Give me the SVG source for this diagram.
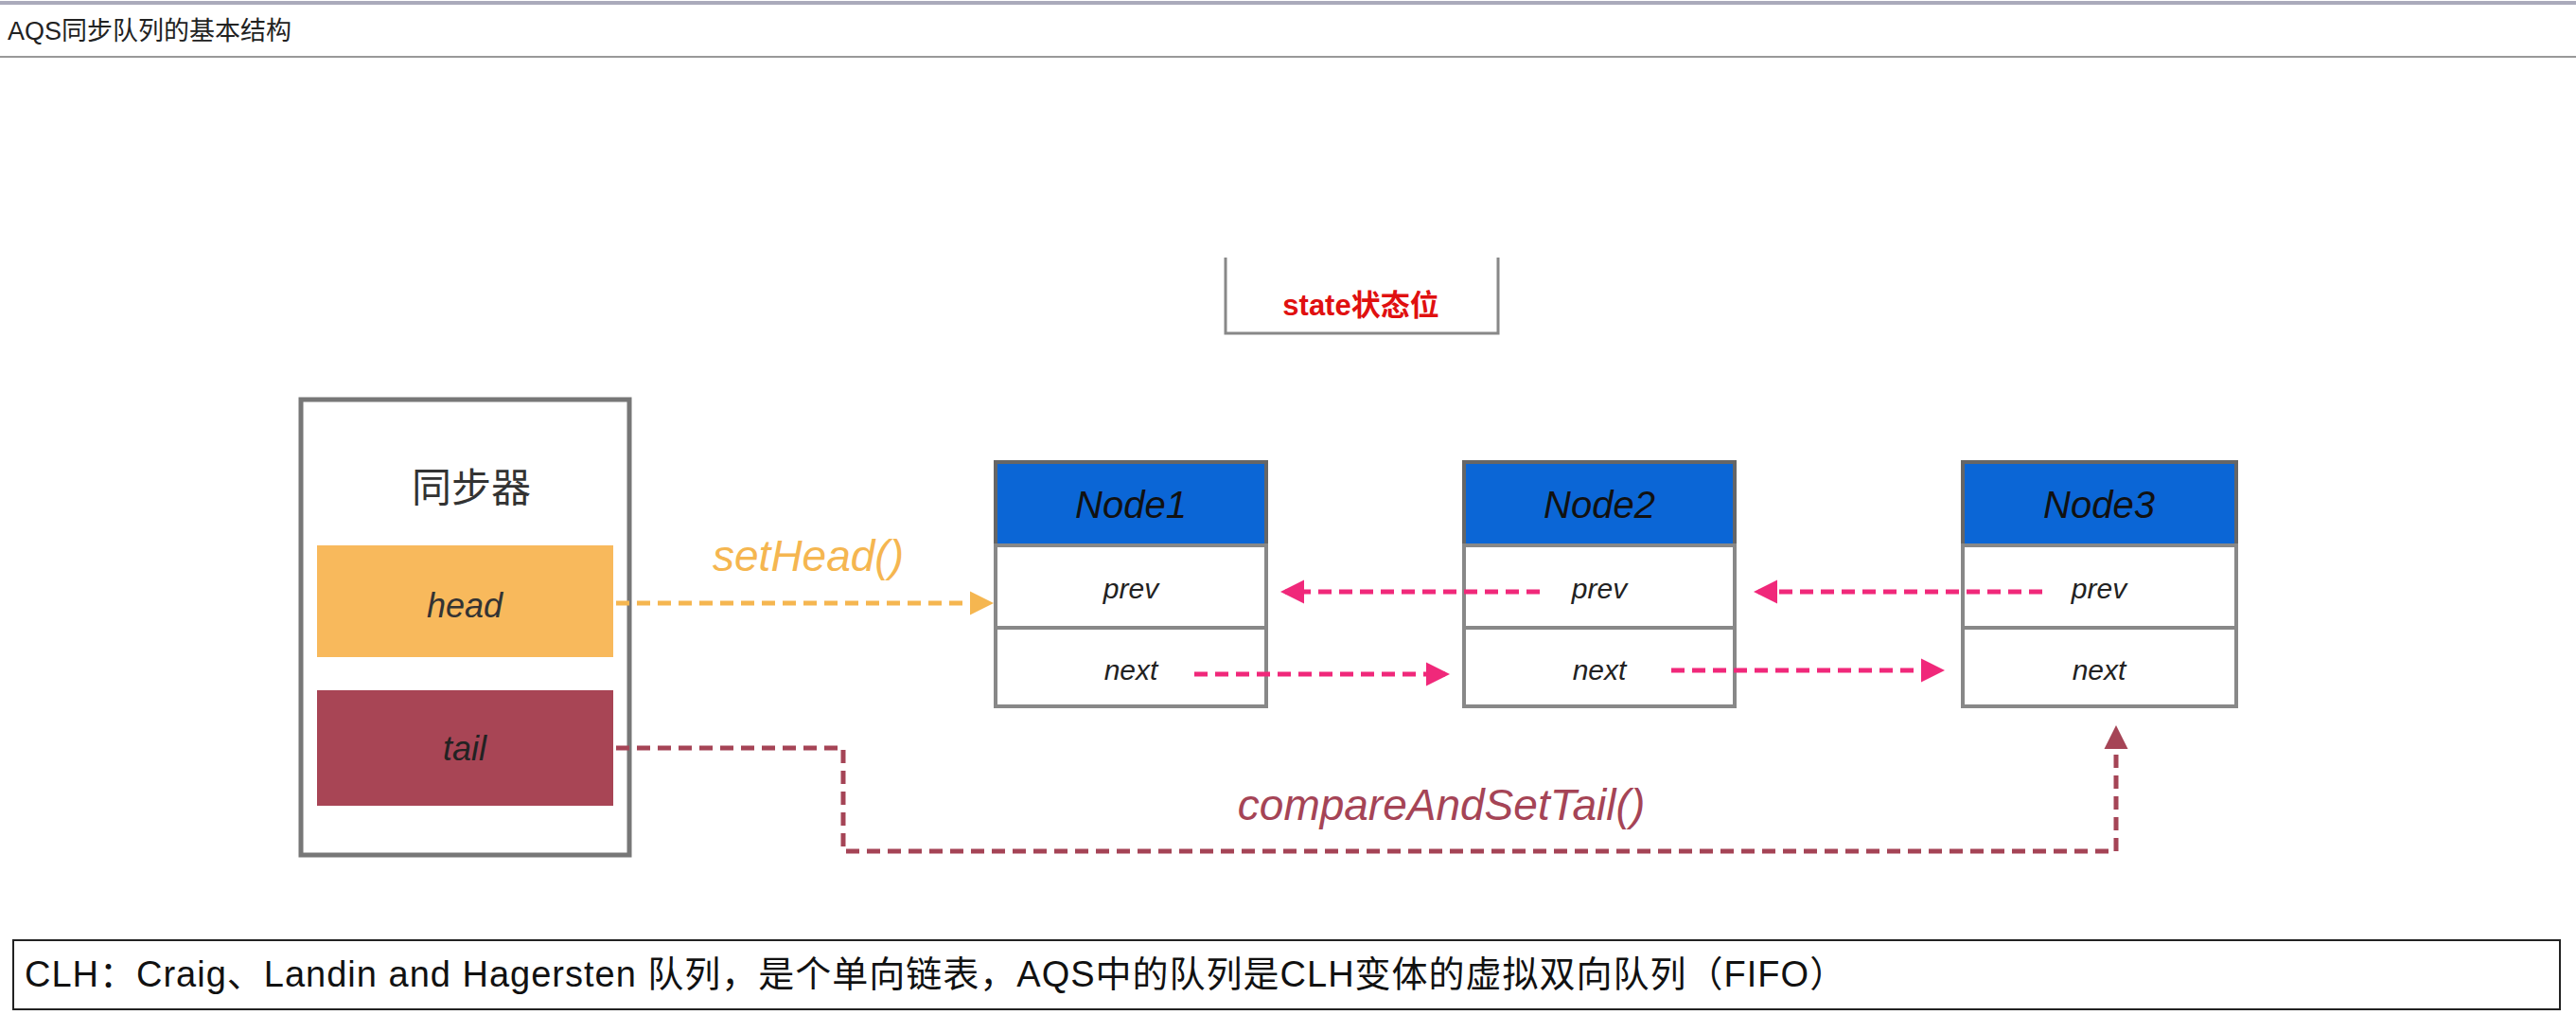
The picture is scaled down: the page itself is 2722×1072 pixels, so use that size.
<svg xmlns="http://www.w3.org/2000/svg" width="2722" height="1072" viewBox="0 0 2722 1072">
<style>
.hand{font-family:"Liberation Sans","Noto Sans CJK SC",sans-serif;font-style:italic;text-anchor:middle}
.box{fill:#fff;stroke:#777;stroke-width:5}
.hdr{fill:#0b66d6;stroke:#666;stroke-width:4}
.row{fill:#fff;stroke:#888;stroke-width:4}
.pink{fill:none;stroke:#f0287a;stroke-width:5;stroke-dasharray:14 8}
</style>
<defs>
<marker id="pk" viewBox="0 0 10 10" refX="8" refY="5" markerWidth="5" markerHeight="7" orient="auto" markerUnits="strokeWidth"><path d="M0,0L10,5L0,10z" fill="#f0287a"/></marker>
<marker id="or" viewBox="0 0 10 10" refX="8" refY="5" markerWidth="5" markerHeight="7" orient="auto" markerUnits="strokeWidth"><path d="M0,0L10,5L0,10z" fill="#f5b650"/></marker>
<marker id="rd" viewBox="0 0 10 10" refX="8" refY="5" markerWidth="5" markerHeight="7" orient="auto" markerUnits="strokeWidth"><path d="M0,0L10,5L0,10z" fill="#a54456"/></marker>
</defs>
<rect width="2722" height="1072" fill="#fff"/>
<line x1="0" y1="3" x2="2722" y2="3" stroke="#aab" stroke-width="4"/>
<text x="8" y="42" font-family="Liberation Sans,'Noto Sans CJK SC',sans-serif" font-size="27" fill="#222">AQS同步队列的基本结构</text>
<line x1="0" y1="60" x2="2722" y2="60" stroke="#999" stroke-width="2"/>

<g id="state">
<path d="M1295,272 L1295,352 L1583,352 L1583,272" fill="#fff" stroke="#888" stroke-width="3"/>
<text x="1438" y="333" font-family="Liberation Sans,'Noto Sans CJK SC',sans-serif" font-weight="bold" font-size="31" fill="#e01010" text-anchor="middle">state状态位</text>
</g>

<g id="sync">
<rect class="box" x="318" y="422" width="347" height="481"/>
<text x="498" y="530" font-family="'Noto Sans CJK SC',sans-serif" font-size="42" fill="#333" text-anchor="middle">同步器</text>
<rect x="335" y="576" width="313" height="118" fill="#f8b95c"/>
<text class="hand" x="491" y="652" font-size="36" fill="#333">head</text>
<rect x="335" y="729" width="313" height="122" fill="#a84555"/>
<text class="hand" x="491" y="803" font-size="36" fill="#222">tail</text>
</g>

<g id="node1">
<rect class="hdr" x="1052" y="488" width="286" height="88"/>
<text class="hand" x="1195" y="547" font-size="40" fill="#111">Node1</text>
<rect class="row" x="1052" y="576" width="286" height="87"/>
<text class="hand" x="1195" y="632" font-size="30" fill="#222">prev</text>
<rect class="row" x="1052" y="663" width="286" height="83"/>
<text class="hand" x="1195" y="718" font-size="30" fill="#222">next</text>
</g>
<g id="node2">
<rect class="hdr" x="1547" y="488" width="286" height="88"/>
<text class="hand" x="1690" y="547" font-size="40" fill="#111">Node2</text>
<rect class="row" x="1547" y="576" width="286" height="87"/>
<text class="hand" x="1690" y="632" font-size="30" fill="#222">prev</text>
<rect class="row" x="1547" y="663" width="286" height="83"/>
<text class="hand" x="1690" y="718" font-size="30" fill="#222">next</text>
</g>
<g id="node3">
<rect class="hdr" x="2074" y="488" width="289" height="88"/>
<text class="hand" x="2218" y="547" font-size="40" fill="#111">Node3</text>
<rect class="row" x="2074" y="576" width="289" height="87"/>
<text class="hand" x="2218" y="632" font-size="30" fill="#222">prev</text>
<rect class="row" x="2074" y="663" width="289" height="83"/>
<text class="hand" x="2218" y="718" font-size="30" fill="#222">next</text>
</g>

<g id="connectors">
<path d="M651,637 L1045,637" fill="none" stroke="#f5b650" stroke-width="5" stroke-dasharray="14 8" marker-end="url(#or)"/>
<text class="hand" x="854" y="603" font-size="46" fill="#f5b650">setHead()</text>
<path class="pink" d="M1627,625 L1358,625" marker-end="url(#pk)"/>
<path class="pink" d="M2158,625 L1858,625" marker-end="url(#pk)"/>
<path class="pink" d="M1262,712 L1527,712" marker-end="url(#pk)"/>
<path class="pink" d="M1766,708 L2050,708" marker-end="url(#pk)"/>
<path d="M651,790 L891,790 L891,899 L2236,899 L2236,771" fill="none" stroke="#a54456" stroke-width="5" stroke-dasharray="14 8" marker-end="url(#rd)"/>
<text class="hand" x="1523" y="866" font-size="46" fill="#a54456">compareAndSetTail()</text>
</g>

<g id="note">
<rect x="14" y="993" width="2691" height="73" fill="#fff" stroke="#222" stroke-width="2"/>
<text x="26" y="1042" font-family="Liberation Sans,'Noto Sans CJK SC',sans-serif" font-size="38" letter-spacing="1" fill="#111">CLH：Craig、Landin and Hagersten 队列，是个单向链表，AQS中的队列是CLH变体的虚拟双向队列（FIFO）</text>
</g>
</svg>
